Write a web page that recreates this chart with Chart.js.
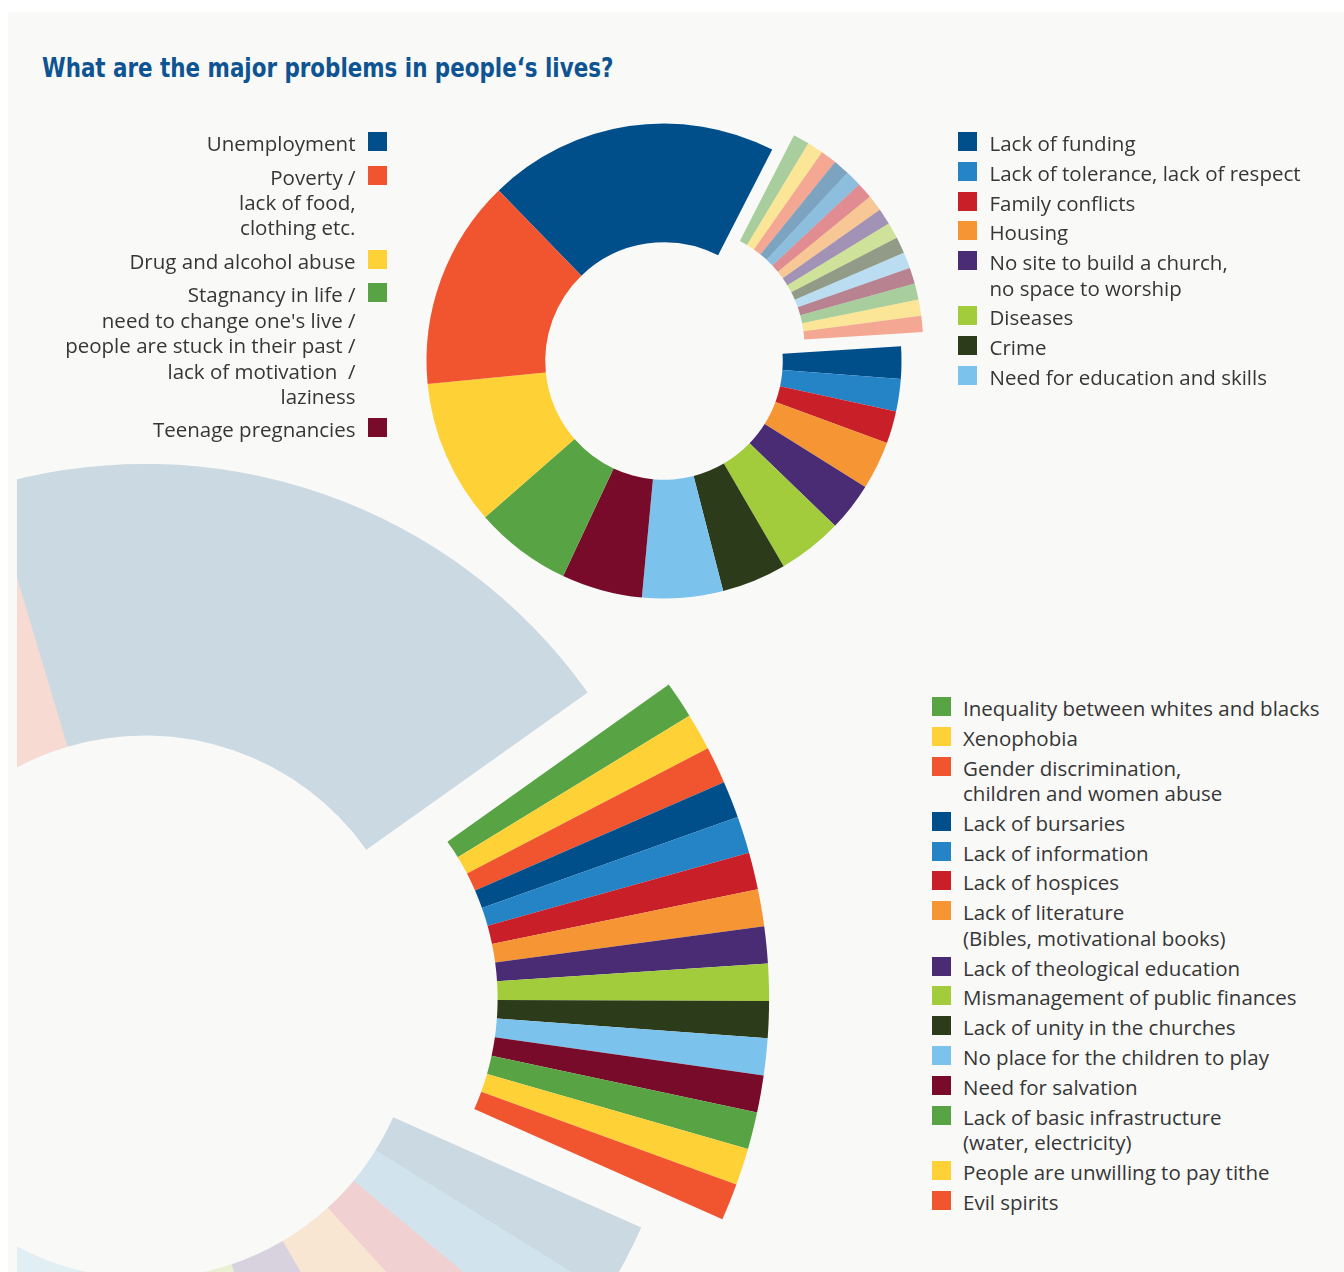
<!DOCTYPE html>
<html>
<head>
<meta charset="utf-8">
<title>What are the major problems in people's lives?</title>
<script src="https://cdn.jsdelivr.net/npm/chart.js@4.4.1/dist/chart.umd.min.js"></script>
<style>
  html, body { margin: 0; padding: 0; background: #fff; }
  body { position: relative; width: 1344px; height: 1272px; overflow: hidden; font-family: "Open Sans", "Noto Sans", sans-serif; color: #363636; }
  #panel { position: absolute; left: 8px; top: 12px; right: 0; bottom: 0; background: #f9f9f7; }
  h1 { position: absolute; left: 42px; top: 52px; margin: 0; font-family: "DejaVu Sans Condensed", "Liberation Sans Narrow", "Roboto", sans-serif; font-stretch: condensed; font-weight: bold; font-size: 26px; line-height: 32px; color: #0f5492; white-space: nowrap; transform: scaleX(0.916); transform-origin: 0 0; }
  .legend { position: absolute; font-size: 20.5px; line-height: 25.5px; white-space: pre; }
  .legend .item { position: relative; }
  .legend .swatch { position: absolute; top: 1px; width: 19px; height: 19px; }
  #legendLeft { left: 0; top: 131px; width: 387px; text-align: right; line-height: 25.4px; }
  #legendLeft .item { padding-right: 31.5px; margin-bottom: 8.1px; }
  #legendLeft .swatch { right: 0; }
  #legendRight { left: 958px; top: 131px; }
  #legendBottom { left: 931.5px; top: 696px; }
  #legendRight .item, #legendBottom .item { padding-left: 31.5px; margin-bottom: 4.3px; }
  #legendRight .swatch, #legendBottom .swatch { left: 0; }
  #topWrap { position: absolute; }
  #bottomClip { position: absolute; left: 17px; top: 400px; width: 883px; height: 872px; overflow: hidden; }
  #bottomWrap { position: absolute; }
</style>
</head>
<body>
<div id="panel"></div>
<h1>What are the major problems in people‘s lives?</h1>
<div id="topWrap"><canvas id="topChart"></canvas></div>
<div id="bottomClip"><div id="bottomWrap"><canvas id="bottomChart"></canvas></div></div>
<div class="legend" id="legendLeft"></div>
<div class="legend" id="legendRight"></div>
<div class="legend" id="legendBottom"></div>
<script>
// main answers, largest first (number of mentions)
const mainLabels = [
    'Unemployment',
    'Poverty /\nlack of food,\nclothing etc.',
    'Drug and alcohol abuse',
    "Stagnancy in life /\nneed to change one's live /\npeople are stuck in their past /\nlack of motivation  /\nlaziness",
    'Teenage pregnancies',
    'Need for education and skills',
    'Crime',
    'Diseases',
    'No site to build a church,\nno space to worship',
    'Housing',
    'Family conflicts',
    'Lack of tolerance, lack of respect',
    'Lack of funding'
];
const mainValues = [18, 13, 9, 6, 5, 5, 4, 4, 3, 3, 2, 2, 2];
const mainColors = ['#004f8b', '#f05530', '#fed136', '#58a445', '#780b2a', '#7bc2ec', '#2c3b19',
    '#a3cc3c', '#4a2c75', '#f69533', '#c91f29', '#2484c6', '#004f8b'];

// answers mentioned once
const otherLabels = [
    'Inequality between whites and blacks',
    'Xenophobia',
    'Gender discrimination,\nchildren and women abuse',
    'Lack of bursaries',
    'Lack of information',
    'Lack of hospices',
    'Lack of literature\n(Bibles, motivational books)',
    'Lack of theological education',
    'Mismanagement of public finances',
    'Lack of unity in the churches',
    'No place for the children to play',
    'Need for salvation',
    'Lack of basic infrastructure\n(water, electricity)',
    'People are unwilling to pay tithe',
    'Evil spirits'
];
const otherValues = [1, 1, 1, 1, 1, 1, 1, 1, 1, 1, 1, 1, 1, 1, 1];
const otherColors = ['#58a445', '#fed136', '#f05530', '#004f8b', '#2484c6', '#c91f29', '#f69533',
    '#4a2c75', '#a3cc3c', '#2c3b19', '#7bc2ec', '#780b2a', '#58a445', '#fed136', '#f05530'];

function fade(hex, alpha) {
    const n = parseInt(hex.slice(1), 16);
    return 'rgba(' + (n >> 16) + ',' + ((n >> 8) & 255) + ',' + (n & 255) + ',' + alpha + ')';
}

// clockwise order: Unemployment, the single answers, then the rest of the main ones
const sliceLabels = [mainLabels[0], ...otherLabels, ...mainLabels.slice(1).reverse()];
const sliceValues = [mainValues[0], ...otherValues, ...mainValues.slice(1).reverse()];
const groupFrom = 1;
const groupTo = otherLabels.length;

function sliceColors(mainAlpha, otherAlpha) {
    return [fade(mainColors[0], mainAlpha),
        ...otherColors.map(c => fade(c, otherAlpha)),
        ...mainColors.slice(1).reverse().map(c => fade(c, mainAlpha))];
}

// pulls the group of single answers out of the ring as one piece
const groupShift = {
    id: 'groupShift',
    afterDatasetUpdate(chart, args, opts) {
        const arcs = args.meta.data;
        const mid = (arcs[opts.from].startAngle + arcs[opts.to].endAngle) / 2;
        for (let i = opts.from; i <= opts.to; i++) {
            arcs[i].x += Math.cos(mid) * opts.distance;
            arcs[i].y += Math.sin(mid) * opts.distance;
        }
    }
};

function makeDonut(id, wrapId, cx, cy, radius, size, rotation, distance, colors, clipLeft, clipTop) {
    const canvas = document.getElementById(id);
    canvas.width = size;
    canvas.height = size;
    const wrap = document.getElementById(wrapId);
    wrap.style.left = (cx - size / 2 - clipLeft) + 'px';
    wrap.style.top = (cy - size / 2 - clipTop) + 'px';
    return new Chart(canvas, {
        type: 'doughnut',
        data: {
            labels: sliceLabels,
            datasets: [{
                data: sliceValues,
                backgroundColor: colors,
                borderWidth: 0,
                hoverOffset: 0
            }]
        },
        options: {
            responsive: false,
            animation: false,
            radius: radius,
            cutout: '50%',
            rotation: rotation,
            layout: { padding: 0 },
            events: [],
            plugins: {
                legend: { display: false },
                tooltip: { enabled: false },
                groupShift: { from: groupFrom, to: groupTo, distance: distance }
            }
        },
        plugins: [groupShift]
    });
}

makeDonut('topChart', 'topWrap', 663.5, 360.5, 237.5, 620, -44.1, 26, sliceColors(1, 0.5), 0, 0);
makeDonut('bottomChart', 'bottomWrap', 144.5, 1007, 543, 1300, -16.6, 81.5, sliceColors(0.19, 1), 17, 400);

function fillLegend(id, labels, colors) {
    const box = document.getElementById(id);
    labels.forEach((label, i) => {
        const item = document.createElement('div');
        item.className = 'item';
        item.textContent = label;
        const sw = document.createElement('span');
        sw.className = 'swatch';
        sw.style.background = colors[i];
        item.appendChild(sw);
        box.appendChild(item);
    });
}

fillLegend('legendLeft', mainLabels.slice(0, 5), mainColors.slice(0, 5));
fillLegend('legendRight', mainLabels.slice(5).reverse(), mainColors.slice(5).reverse());
fillLegend('legendBottom', otherLabels, otherColors);
</script>
</body>
</html>
